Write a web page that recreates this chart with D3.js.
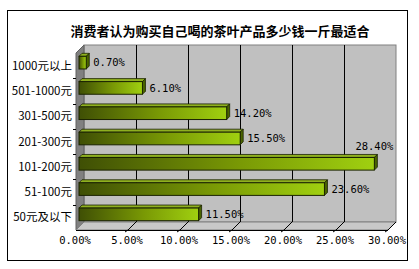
<!DOCTYPE html>
<html>
<head>
<meta charset="utf-8">
<script src="https://cdn.jsdelivr.net/npm/d3@7"></script>
<style>
  body { margin: 0; background: #fff; }
  .cat { font-family: "Noto Sans CJK SC", sans-serif; font-size: 11.5px; fill: #000; }
  .num { font-family: "DejaVu Sans Mono", monospace; font-size: 10.5px; fill: #000; }
</style>
</head>
<body>
<svg id="chart" width="419" height="269"></svg>
<script>
const title = "消费者认为购买自己喝的茶叶产品多少钱一斤最适合";
const categories = ["1000元以上", "501-1000元", "301-500元", "201-300元", "101-200元", "51-100元", "50元及以下"];
const values = [0.70, 6.10, 14.20, 15.50, 28.40, 23.60, 11.50];
const ticks = [0, 5, 10, 15, 20, 25, 30];

let svg = d3.select("#chart");

// outer frame
svg.append("rect")
   .attr("x", 7.5).attr("y", 10.5)
   .attr("width", 400).attr("height", 250)
   .attr("fill", "#fff").attr("stroke", "#000");

svg.append("text")
   .attr("x", 220).attr("y", 36)
   .attr("text-anchor", "middle")
   .style("font-family", '"Noto Sans CJK SC", sans-serif')
   .style("font-size", "13px")
   .style("font-weight", "bold")
   .text(title);

// 3d geometry: front plane + depth offset
const dx = 8, dy = 8;
const plotTop = 53, plotBottom = 230;
const x = d3.scaleLinear().domain([0, 30]).range([76, 388]);
const y = d3.scaleBand().domain(categories).range([plotTop, plotBottom]).paddingInner(0.5).paddingOuter(0.25);
const yb = d3.scaleBand().domain(categories).range([plotTop, plotBottom]);

let g = svg.append("g");

// back wall
g.append("rect")
   .attr("x", x(0) + dx).attr("y", plotTop - dy)
   .attr("width", x(30) - x(0)).attr("height", plotBottom - plotTop)
   .attr("fill", "#c0c0c0").attr("stroke", "#808080");

// left wall
g.append("path")
   .attr("d", d3.line()([[x(0), plotTop], [x(0) + dx, plotTop - dy], [x(0) + dx, plotBottom - dy], [x(0), plotBottom]]) + "Z")
   .attr("fill", "#808080").attr("stroke", "#606060");

// floor
g.append("path")
   .attr("d", d3.line()([[x(0), plotBottom], [x(0) + dx, plotBottom - dy], [x(30) + dx, plotBottom - dy], [x(30), plotBottom]]) + "Z")
   .attr("fill", "#c8c8c8").attr("stroke", "#808080");
g.append("line")
   .attr("x1", x(0)).attr("x2", x(30)).attr("y1", plotBottom + 0.5).attr("y2", plotBottom + 0.5)
   .attr("stroke", "#000");

// gridlines on back wall and floor
let inner = ticks.slice(1, -1);
g.selectAll(".grid")
   .data(inner)
   .enter()
   .append("line")
   .attr("class", "grid")
   .attr("x1", d => Math.round(x(d) + dx) + 0.5).attr("x2", d => Math.round(x(d) + dx) + 0.5)
   .attr("y1", plotTop - dy).attr("y2", plotBottom - dy)
   .attr("stroke", "#000");
g.selectAll(".fgrid")
   .data(ticks.slice(1))
   .enter()
   .append("path")
   .attr("class", "fgrid")
   .attr("d", d => d3.line()([[x(d) + dx, plotBottom - dy], [x(d), plotBottom], [x(d) - 3, plotBottom + 2]]))
   .attr("fill", "none")
   .attr("stroke", "#000");

// category ticks on the left wall edge
g.selectAll(".ytick")
   .data(categories.slice(1))
   .enter()
   .append("line")
   .attr("class", "ytick")
   .attr("x1", x(0) - 3).attr("x2", x(0))
   .attr("y1", d => Math.round(yb(d)) + 0.5).attr("y2", d => Math.round(yb(d)) + 0.5)
   .attr("stroke", "#000");

// bar gradient
let defs = svg.append("defs");
let grad = defs.append("linearGradient").attr("id", "barfill");
grad.append("stop").attr("offset", "0%").attr("stop-color", "#3f4f05");
grad.append("stop").attr("offset", "55%").attr("stop-color", "#7a9a05");
grad.append("stop").attr("offset", "100%").attr("stop-color", "#a0d010");

// bars, drawn slightly behind the front plane
const bo = 3, bd = 3;
let bars = g.selectAll(".bar")
   .data(values.map((v, i) => ({cat: categories[i], v: v})))
   .enter()
   .append("g")
   .attr("class", "bar");

bars.append("path")
   .attr("d", d => {
     let x0 = x(0) + bo, x1 = x(d.v) + bo, y0 = y(d.cat) - bo;
     return d3.line()([[x0, y0], [x0 + bd, y0 - bd], [x1 + bd, y0 - bd], [x1, y0]]) + "Z";
   })
   .attr("fill", "#8fb020").attr("stroke", "#1a2200").attr("stroke-width", 0.8);
bars.append("path")
   .attr("d", d => {
     let x1 = x(d.v) + bo, y0 = y(d.cat) - bo, y1 = y0 + y.bandwidth();
     return d3.line()([[x1, y0], [x1 + bd, y0 - bd], [x1 + bd, y1 - bd], [x1, y1]]) + "Z";
   })
   .attr("fill", "#4a6400").attr("stroke", "#1a2200").attr("stroke-width", 0.8);
bars.append("rect")
   .attr("x", x(0) + bo)
   .attr("y", d => y(d.cat) - bo)
   .attr("width", d => x(d.v) - x(0))
   .attr("height", y.bandwidth())
   .attr("fill", "url(#barfill)")
   .attr("stroke", "#1a2200");

// value labels
bars.append("text")
   .attr("class", "num")
   .attr("x", d => d.v > 27 ? x(d.v) + bo : x(d.v) + bo + bd + 4)
   .attr("y", d => y(d.cat) - bo + y.bandwidth() / 2 + (d.v > 27 ? -17 : 0))
   .attr("dy", "0.35em")
   .attr("text-anchor", d => d.v > 27 ? "middle" : "start")
   .text(d => d.v.toFixed(2) + "%");

// category labels
svg.selectAll(".cat")
   .data(categories)
   .enter()
   .append("text")
   .attr("class", "cat")
   .attr("x", 72)
   .attr("y", d => yb(d) + yb.bandwidth() / 2)
   .attr("dy", "0.35em")
   .attr("text-anchor", "end")
   .text(d => d);

// x axis labels
svg.selectAll(".xl")
   .data(ticks)
   .enter()
   .append("text")
   .attr("class", "num xl")
   .attr("x", d => x(d) - 1)
   .attr("y", 244)
   .attr("text-anchor", "middle")
   .text(d => d.toFixed(2) + "%");
</script>
</body>
</html>
